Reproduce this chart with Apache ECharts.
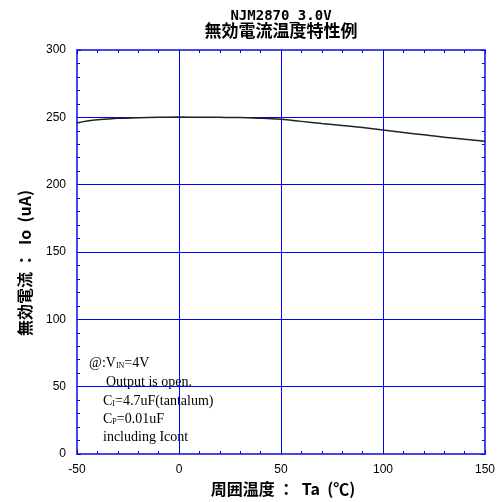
<!DOCTYPE html>
<html><head><meta charset="utf-8">
<script src="https://cdn.jsdelivr.net/npm/echarts@6/dist/echarts.min.js"></script>
<style>html,body{margin:0;padding:0;background:#fff}#c{width:498px;height:502px}</style>
</head><body><div id="c"></div>
<script>
const titleLine1 = 'NJM2870_3.0V';
const titleLine2 = '無効電流温度特性例';
const xName = '周囲温度 ：  Ta  (℃)';
const yName = '無効電流 ：  Io  (uA)';
const temps = [-50, -45, -40, -35, -30, -20, -10, 0, 10, 20, 30, 40, 50, 60, 70, 80, 90, 100, 110, 120, 130, 140, 150];
const current = [245.8, 247.2, 248.2, 248.8, 249.3, 249.7, 250.0, 250.2, 250.1, 250.0, 249.8, 249.4, 248.5, 247.0, 245.5, 244.0, 242.4, 240.6, 238.8, 237.0, 235.3, 233.8, 232.2];
const xMin = -50, xMax = 150, xStep = 50;
const yMin = 0, yMax = 300, yStep = 50;
const xGridValues = [0, 50, 100];
const yGridValues = [50, 100, 150, 200, 250];
const noteLines = [
  '@:V{s|IN}=4V',
  'Output is open.',
  'C{s|I}=4.7uF(tantalum)',
  'C{s|P}=0.01uF',
  'including Icont'
];

const gridColor = 'rgb(0,0,255)';
const borderColor = 'rgb(72,72,232)';
const chart = echarts.init(document.getElementById('c'));
const tickFont = {fontFamily: 'Liberation Sans', fontSize: 12, color: '#000'};
function axisBase() {
  return {
    axisLine: {show: true, onZero: false, lineStyle: {color: borderColor, width: 2}},
    axisTick: {show: true, inside: true, length: 4, lineStyle: {color: gridColor, width: 1}},
    minorTick: {show: true, splitNumber: 5, length: 3, lineStyle: {color: gridColor, width: 1}},
    splitLine: {show: false},
    minorSplitLine: {show: false},
    splitArea: {show: false}
  };
}
const noteX = [89, 106, 103, 103, 103];
const noteY = [363, 382, 401, 419, 437];
const noteStyle = {
  font: '14px "Liberation Serif"', fill: '#000', verticalAlign: 'middle',
  rich: {s: {fontSize: 8, fontFamily: 'Liberation Serif', verticalAlign: 'bottom'}}
};
chart.setOption({
  animation: false,
  backgroundColor: '#fff',
  title: [
    {text: titleLine1, left: 281, top: 9, padding: 0, textAlign: 'center',
     textStyle: {fontFamily: 'DejaVu Sans Mono', fontWeight: 'bold', fontSize: 14, color: '#000'}},
    {text: titleLine2, left: 281, top: 22, padding: 0, textAlign: 'center',
     textStyle: {fontFamily: 'Noto Sans CJK JP', fontWeight: 'bold', fontSize: 17, color: '#000'}}
  ],
  grid: {left: 77, right: 12, top: 50, bottom: 44, containLabel: false},
  xAxis: [
    Object.assign(axisBase(), {
      type: 'value', min: xMin, max: xMax, interval: xStep, position: 'bottom',
      axisLabel: Object.assign({margin: 10}, tickFont),
      name: xName, nameLocation: 'middle', nameGap: 27,
      nameTextStyle: {fontFamily: 'Noto Sans CJK JP', fontWeight: 'bold', fontSize: 16, color: '#000', padding: [0, 0, 0, 4]}
    }),
    Object.assign(axisBase(), {
      type: 'value', min: xMin, max: xMax, interval: xStep, position: 'top',
      axisLabel: {show: false}
    })
  ],
  yAxis: [
    Object.assign(axisBase(), {
      type: 'value', min: yMin, max: yMax, interval: yStep, position: 'left',
      axisLabel: Object.assign({margin: 11}, tickFont),
      name: yName, nameLocation: 'middle', nameGap: 44, nameRotate: 90,
      nameTextStyle: {fontFamily: 'Noto Sans CJK JP', fontWeight: 'bold', fontSize: 16, color: '#000', padding: [0, 22, 0, 0]}
    }),
    Object.assign(axisBase(), {
      type: 'value', min: yMin, max: yMax, interval: yStep, position: 'right',
      axisLabel: {show: false}
    })
  ],
  series: [{
    type: 'line', smooth: true, showSymbol: false,
    data: temps.map((t, i) => [t, current[i]]),
    lineStyle: {color: '#222', width: 1.5}, z: 5,
    markLine: {
      silent: true, symbol: 'none', animation: false,
      label: {show: false},
      lineStyle: {color: gridColor, width: 1, type: 'solid', opacity: 1},
      emphasis: {disabled: true},
      data: xGridValues.map(v => ({xAxis: v})).concat(yGridValues.map(v => ({yAxis: v})))
    }
  }],
  graphic: [{
    type: 'group', z: 100,
    children: [{type: 'rect', shape: {x: 78, y: 345, width: 147, height: 91}, style: {fill: '#fff'}}]
      .concat(noteLines.map((t, i) => ({
        type: 'text', x: noteX[i], y: noteY[i], style: Object.assign({text: t}, noteStyle)
      })))
  }]
});
</script></body></html>
